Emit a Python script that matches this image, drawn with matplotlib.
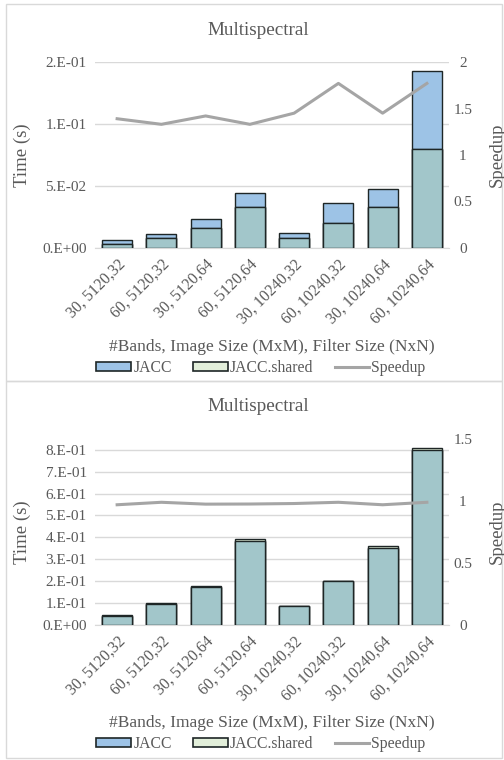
import matplotlib
matplotlib.use("Agg")
import matplotlib.pyplot as plt
import numpy as np
from matplotlib.patches import Patch, Rectangle
from matplotlib.lines import Line2D

plt.rcParams["font.family"] = ["Liberation Serif", "DejaVu Serif"]

categories = ["30, 5120,32", "60, 5120,32", "30, 5120,64", "60, 5120,64",
              "30, 10240,32", "60, 10240,32", "30, 10240,64", "60, 10240,64"]

# top panel
jacc_top = [0.0062, 0.0113, 0.0237, 0.0446, 0.0118, 0.0363, 0.0476, 0.1426]
shared_top = [0.0035, 0.0083, 0.0164, 0.0334, 0.0083, 0.0202, 0.0331, 0.0799]
speedup_top = [1.39, 1.33, 1.42, 1.33, 1.45, 1.77, 1.45, 1.77]

# bottom panel
jacc_bot = [0.0420, 0.0975, 0.1740, 0.3850, 0.0870, 0.1990, 0.3530, 0.7980]
shared_bot = [0.0436, 0.0989, 0.1770, 0.3940, 0.0885, 0.2010, 0.3620, 0.8080]
speedup_bot = [0.97, 0.99, 0.975, 0.976, 0.98, 0.99, 0.97, 0.99]

C_JACC = "#9DC3E6"
C_SHARED = "#E2EFDA"
C_OVER = "#A2C6CA"
C_EDGE = "#1E2626"
C_LINE = "#A5A5A5"
C_TEXT = "#595959"
C_GRID = "#D9D9D9"

fig = plt.figure(figsize=(5.04, 7.6), dpi=100)


def draw_panel(rect, jacc, shared, speedup, ylim, yticks, ylabels, rlim, rticks,
               title_y, xlabel_y, legend_y, ylab_y):
    ax = fig.add_axes(rect)
    x = np.arange(len(categories))
    jacc = np.array(jacc)
    shared = np.array(shared)
    w = 0.68
    ax.bar(x, jacc, w, color=C_JACC, edgecolor=C_EDGE, linewidth=1.0, zorder=2)
    ax.bar(x, shared, w, color=C_SHARED, edgecolor=C_EDGE, linewidth=1.0, zorder=2)
    ax.bar(x, np.minimum(jacc, shared), w, color=C_OVER, edgecolor=C_EDGE,
           linewidth=1.0, zorder=3)
    ax.set_xlim(-0.5, len(categories) - 0.5)
    ax.set_ylim(*ylim)
    ax.set_yticks(yticks)
    ax.set_yticklabels(ylabels)
    ax.yaxis.grid(True, color=C_GRID, linewidth=1.0, zorder=0)
    ax.set_axisbelow(True)
    for s in ax.spines.values():
        s.set_visible(False)
    ax.spines["bottom"].set_visible(True)
    ax.spines["bottom"].set_color(C_GRID)
    ax.tick_params(length=0, labelsize=11, colors=C_TEXT, pad=6)
    ax.set_xticks(x)
    ax.set_xticklabels(categories, rotation=45, ha="right", rotation_mode="anchor",
                       fontsize=11.5)

    ax2 = ax.twinx()
    ax2.plot(x, speedup, color=C_LINE, linewidth=2.2, zorder=4)
    ax2.set_ylim(*rlim)
    ax2.set_yticks(rticks)
    ax2.set_yticklabels([f"{t:g}" for t in rticks])
    for s in ax2.spines.values():
        s.set_visible(False)
    ax2.tick_params(length=0, labelsize=11, colors=C_TEXT, pad=10)
    for t in ax2.get_yticklabels():
        t.set_horizontalalignment("center")

    fig.text(22 / 504, ylab_y, "Time (s)", rotation=90, ha="center", va="center",
             fontsize=13.5, color=C_TEXT)
    fig.text(497 / 504, ylab_y, "Speedup", rotation=90, ha="center", va="center",
             fontsize=13.5, color=C_TEXT)
    fig.text(0.512, title_y, "Multispectral", ha="center", va="center",
             fontsize=13.8, color=C_TEXT)
    fig.text(0.54, xlabel_y, "#Bands, Image Size (MxM), Filter Size (NxN)",
             ha="center", va="center", fontsize=12.5, color=C_TEXT)
    handles = [
        Patch(facecolor=C_JACC, edgecolor=C_EDGE, linewidth=1.2),
        Patch(facecolor=C_SHARED, edgecolor=C_EDGE, linewidth=1.2),
        Line2D([0], [0], color=C_LINE, linewidth=2.2),
    ]
    leg = fig.legend(handles, ["JACC", "JACC.shared", "Speedup"],
                     loc="center", bbox_to_anchor=(0.518, legend_y), ncol=3,
                     frameon=False, fontsize=11.3, handlelength=2.2,
                     handleheight=0.55, handletextpad=0.15, columnspacing=1.35)
    for t in leg.get_texts():
        t.set_color(C_TEXT)


draw_panel([0.1885, 0.6737, 0.7024, 0.2447], jacc_top, shared_top, speedup_top,
           (0, 0.15), [0, 0.05, 0.10, 0.15],
           ["0.E+00", "5.E-02", "1.E-01", "2.E-01"],
           (0, 2), [0, 0.5, 1, 1.5, 2],
           0.9605, 0.543, 0.516, 1 - 155 / 760)

draw_panel([0.1885, 0.1776, 0.7024, 0.2447], jacc_bot, shared_bot, speedup_bot,
           (0, 0.849), [i / 10 for i in range(9)],
           [f"{i}.E-01" if i else "0.E+00" for i in range(9)],
           (0, 1.5), [0, 0.5, 1, 1.5],
           0.4645, 0.0487, 0.021, 1 - 532 / 760)

# chart borders
for y0, y1 in [(4, 381), (381, 758)]:
    fig.add_artist(Rectangle((6 / 504, 1 - y1 / 760), 496 / 504, (y1 - y0) / 760,
                             transform=fig.transFigure, fill=False,
                             edgecolor=C_GRID, linewidth=1.0))

fig.savefig("out.png", dpi=100)
